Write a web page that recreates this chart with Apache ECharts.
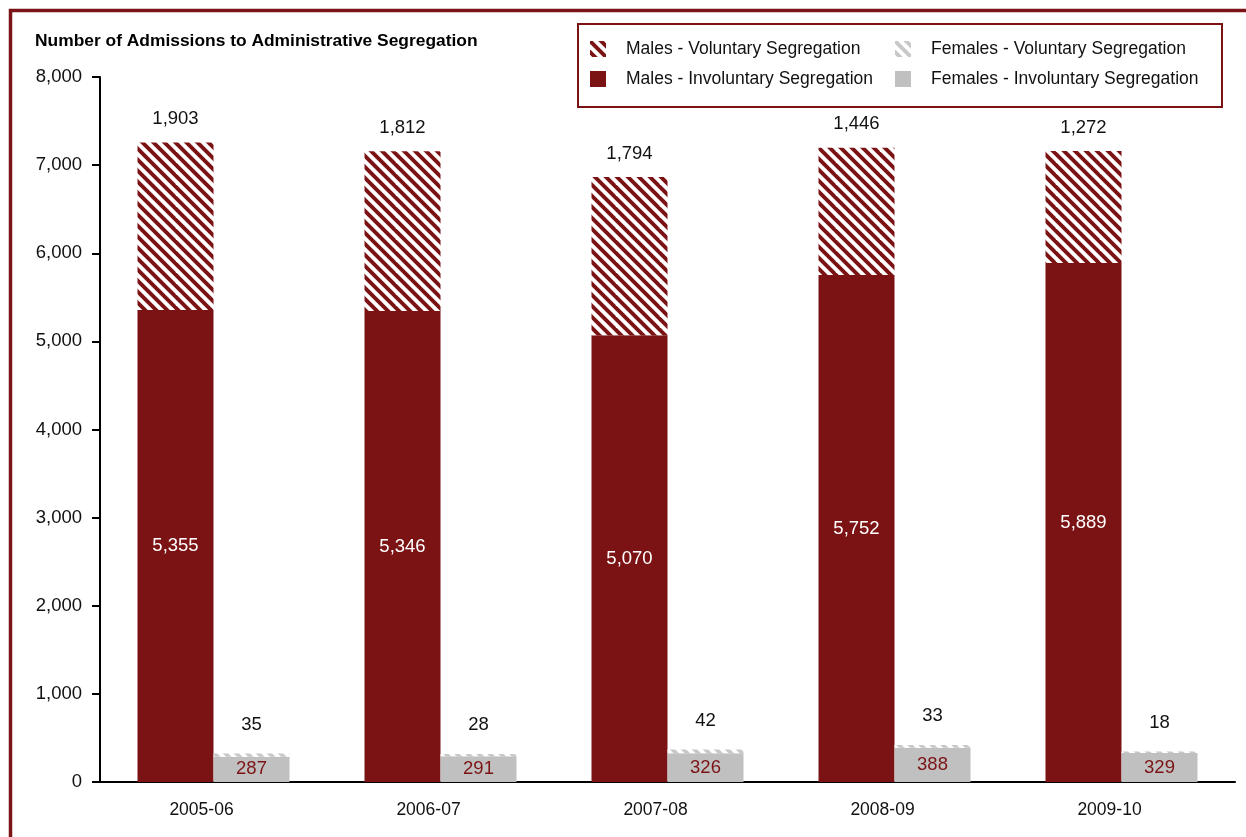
<!DOCTYPE html>
<html>
<head>
<meta charset="utf-8">
<title>Admissions to Administrative Segregation</title>
<script src="https://cdn.jsdelivr.net/npm/echarts@6/dist/echarts.min.js"></script>
<style>
  html, body { margin: 0; padding: 0; background: #fff; }
  #chart { width: 1246px; height: 837px; }
</style>
</head>
<body>
<div id="chart"></div>
<script>
// Fiscal years on the category axis
var years = ['2005-06', '2006-07', '2007-08', '2008-09', '2009-10'];

// Admissions by sex and type of segregation
var malesInvoluntary   = [5355, 5346, 5070, 5752, 5889];
var malesVoluntary     = [1903, 1812, 1794, 1446, 1272];
var femalesInvoluntary = [287, 291, 326, 388, 329];
var femalesVoluntary   = [35, 28, 42, 33, 18];

// Value axis ticks
var yTicks = [0, 1000, 2000, 3000, 4000, 5000, 6000, 7000, 8000];

var MAROON = '#7B1315';
var GREY = '#C0C0C0';
var FONT = "'Liberation Sans', Arial, sans-serif";

// Diagonal "\" hatch tile used for the voluntary series
function hatch(stripe, ground) {
  var s = 11, n = 4, size = s * n;
  var c = document.createElement('canvas');
  c.width = size; c.height = size;
  var g = c.getContext('2d');
  g.fillStyle = ground;
  g.fillRect(0, 0, size, size);
  g.strokeStyle = stripe;
  g.lineWidth = 3.9;
  for (var k = -2 * size; k <= 2 * size; k += s) {
    g.beginPath();
    g.moveTo(k - size, -size);
    g.lineTo(k + 2 * size, 2 * size);
    g.stroke();
  }
  return { image: c, repeat: 'repeat' };
}

function fmt(v) { return Number(v).toLocaleString('en-US'); }

// One legend entry placed at a fixed spot
function legendItem(name, left, rowCenter) {
  return {
    z: 5, left: left, top: rowCenter - 8, padding: 0,
    itemWidth: 16, itemHeight: 16, icon: 'rect',
    data: [name],
    textStyle: { fontFamily: FONT, fontSize: 17.5, color: '#111', lineHeight: 16, padding: [0, 0, 0, 15] }
  };
}

var chart = echarts.init(document.getElementById('chart'), null, { renderer: 'canvas' });

chart.setOption({
  animation: false,
  backgroundColor: '#fff',
  textStyle: { fontFamily: FONT },
  title: {
    text: 'Number of Admissions to Administrative Segregation',
    left: 30,
    top: 28,
    textStyle: { fontFamily: FONT, fontWeight: 'bold', fontSize: 17.4, color: '#000' }
  },
  graphic: [
    {
      type: 'rect', z: 0, silent: true,
      shape: { x: 10.5, y: 10.5, width: 1400, height: 1000 },
      style: { fill: 'none', stroke: '#7B1416', lineWidth: 3.5 }
    },
    {
      type: 'rect', z: 0, silent: true,
      shape: { x: 578, y: 24, width: 644, height: 83 },
      style: { fill: '#fff', stroke: MAROON, lineWidth: 2 }
    }
  ],
  legend: [
    legendItem('Males - Voluntary Segregation', 590, 48),
    legendItem('Males - Involuntary Segregation', 590, 78),
    legendItem('Females - Voluntary Segregation', 895, 48),
    legendItem('Females - Involuntary Segregation', 895, 78)
  ],
  grid: { left: 100, right: 11, top: 77, bottom: 55, containLabel: false },
  xAxis: {
    type: 'category',
    data: years,
    axisLine: { lineStyle: { color: '#000', width: 2 } },
    axisTick: { show: false },
    axisLabel: {
      color: '#111', fontFamily: FONT, fontSize: 17.5, margin: 19,
      padding: [0, 24, 0, 0]
    }
  },
  yAxis: {
    type: 'value',
    min: yTicks[0],
    max: yTicks[yTicks.length - 1],
    interval: yTicks[1] - yTicks[0],
    splitLine: { show: false },
    axisLine: { show: true, lineStyle: { color: '#000', width: 2 } },
    axisTick: { show: true, length: 8, lineStyle: { color: '#000', width: 2 } },
    axisLabel: { color: '#111', fontFamily: FONT, fontSize: 18.5, margin: 18, formatter: fmt }
  },
  series: [
    {
      name: 'Males - Involuntary Segregation',
      type: 'bar', stack: 'males', barWidth: 76, barGap: '0%',
      data: malesInvoluntary,
      itemStyle: { color: MAROON },
      label: {
        show: true, position: 'inside', color: '#fff',
        fontFamily: FONT, fontSize: 18.5, formatter: function (p) { return fmt(p.value); }
      }
    },
    {
      name: 'Males - Voluntary Segregation',
      type: 'bar', stack: 'males', barWidth: 76, barGap: '0%',
      data: malesVoluntary,
      itemStyle: { color: hatch(MAROON, '#fff') },
      label: {
        show: true, position: 'top', distance: 14, color: '#111',
        fontFamily: FONT, fontSize: 18.5, formatter: function (p) { return fmt(p.value); }
      }
    },
    {
      name: 'Females - Involuntary Segregation',
      type: 'bar', stack: 'females', barWidth: 76, barGap: '0%',
      data: femalesInvoluntary,
      itemStyle: { color: GREY },
      label: {
        show: true, position: 'inside', color: MAROON,
        fontFamily: FONT, fontSize: 18.5, formatter: function (p) { return fmt(p.value); }
      }
    },
    {
      name: 'Females - Voluntary Segregation',
      type: 'bar', stack: 'females', barWidth: 76, barGap: '0%',
      data: femalesVoluntary,
      itemStyle: { color: hatch('#C8C8C8', '#fff') },
      label: {
        show: true, position: 'top', distance: 19, color: '#111',
        fontFamily: FONT, fontSize: 18.5, formatter: function (p) { return fmt(p.value); }
      }
    }
  ]
});
</script>
</body>
</html>
